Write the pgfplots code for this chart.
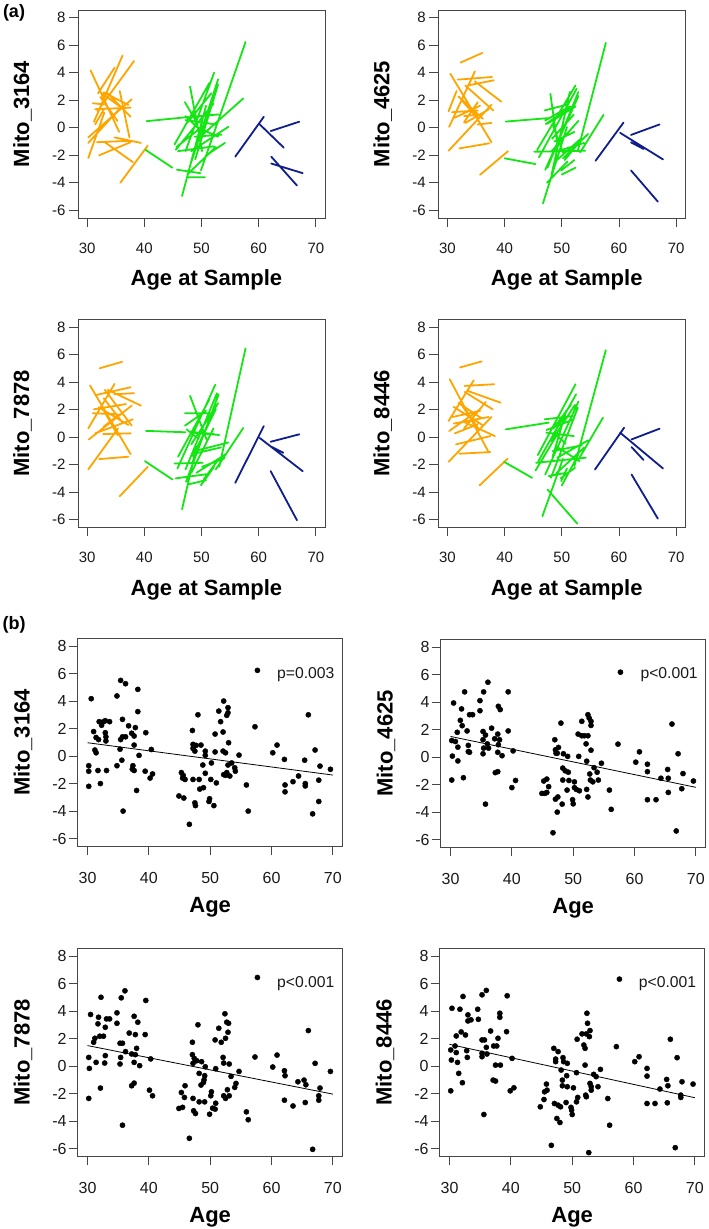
\documentclass[border=0pt]{standalone}
\usepackage{fontspec}
\setmainfont{Liberation Sans}
\usepackage{pgfplots}
\pgfplotsset{compat=1.18}

\definecolor{rorange}{RGB}{255,165,0}
\definecolor{rgreen}{RGB}{20,230,20}
\definecolor{rnavy}{RGB}{15,30,140}
\definecolor{frame}{RGB}{70,70,70}

\tikzset{ptext/.style={anchor=base west, font=\fontsize{15.7}{19}\selectfont, text=black!90}}

\pgfplotsset{
  rbase/.style={
    scale only axis, height=208pt,
    xmin=28.4, xmax=71.6, ymin=-6.56, ymax=8.56,
    xtick={30,40,50,60,70}, ytick={-6,-4,-2,0,2,4,6,8},
    xticklabels={30,40,50,60,70}, yticklabels={-6,-4,-2,0,2,4,6,8},
    tick align=outside, tick pos=left,
    major tick length=9pt,
    axis line style={frame, line width=0.9pt},
    tick style={frame, line width=0.9pt},
    unbounded coords=jump,
    every axis y label/.style={rotate=90, anchor=center, font=\fontsize{22}{26}\selectfont\bfseries},
    every axis x label/.style={anchor=base, font=\fontsize{22}{26}\selectfont\bfseries},
  },
  % panels (a): spaghetti plots
  pa/.style={rbase, width=247pt,
    tick label style={font=\fontsize{15}{18}\selectfont, inner sep=0pt, text=black!90},
    xticklabel style={anchor=north, yshift=-15.7pt},
    yticklabel style={anchor=east, xshift=-3.3pt},
    ylabel style={at={(axis description cs:-0.2247,0.5)}},
    xlabel style={at={(axis description cs:0.52,-0.3255)}},
    xlabel={Age at Sample},
  },
  % panels (b): scatter with fit
  pb/.style={rbase, width=265pt,
    tick label style={font=\fontsize{16}{19}\selectfont, inner sep=0pt, text=black!90},
    xticklabel style={anchor=north, yshift=-16.8pt},
    yticklabel style={anchor=east, xshift=-2pt},
    ylabel style={at={(axis description cs:-0.206,0.5)}},
    xlabel style={at={(axis description cs:0.5,-0.319)}},
    xlabel={Age},
  },
  seg/.style={line width=1.8pt, line cap=round},
  pts/.style={only marks, mark=*, mark size=2.6pt, black},
  fit/.style={black, line width=0.8pt},
}

\begin{document}
\begin{tikzpicture}
\useasboundingbox (0pt,0pt) rectangle (709pt,-1229pt);

\node[anchor=base, font=\fontsize{18}{21}\selectfont\bfseries] at (14pt,-17pt) {(a)};
\node[anchor=base, font=\fontsize{18}{21}\selectfont\bfseries] at (14pt,-629pt) {(b)};

% ---------------- (a) Mito_3164
\begin{axis}[pa, at={(78pt,-10pt)}, anchor=north west, ylabel={Mito\_3164}]
\addplot[seg, rorange] coordinates {
(30.6,4.17)(35.6,-0.3)(0,nan) (31.2,0.44)(36.2,5.26)(0,nan) (31.8,1.2)(38.2,4.85)(0,nan)
(30.2,-0.7)(37.8,2.07)(0,nan) (30.2,-2.2)(33.0,1.1)(0,nan) (30.2,-1.1)(35.7,1.4)(0,nan)
(31.0,1.78)(32.9,1.7)(0,nan) (32.1,-2.0)(37.6,-1.05)(0,nan) (31.7,-1.05)(37.3,-0.95)(0,nan)
(34.8,-0.7)(39.4,-1.1)(0,nan) (33.1,-1.05)(38.0,-2.5)(0,nan) (35.8,-4.0)(40.6,-1.3)(0,nan)
(35.7,2.67)(37.4,-0.7)(0,nan) (31.9,2.5)(34.8,4.37)(0,nan) (32.3,2.24)(35.3,0.5)(0,nan)
(32.6,2.5)(36.2,1.4)(0,nan) (32.9,2.57)(37.2,1.66)(0,nan) (33.6,2.5)(37.6,0.8)(0,nan)
(31.4,0.24)(33.0,1.4)(0,nan) (31.4,1.35)(37.6,1.46)};
\addplot[seg, rgreen] coordinates {
(40.4,0.48)(47.7,0.78)(0,nan) (40.2,-1.6)(44.9,-2.9)(0,nan) (46.6,-4.96)(50.8,1.6)(0,nan)
(49.9,-3.1)(57.7,6.23)(0,nan) (50.2,-0.5)(57.3,2.13)(0,nan) (45.7,-3.05)(49.8,-3.3)(0,nan)
(47.6,-3.6)(50.6,-3.6)(0,nan) (48.0,3.0)(50.1,-1.7)(0,nan) (47.2,-1.7)(52.2,4.0)(0,nan)
(48.3,-2.4)(52.9,3.52)(0,nan) (49.2,-1.25)(52.7,2.96)(0,nan) (48.9,-2.3)(52.9,3.15)(0,nan)
(45.3,-1.2)(51.4,3.27)(0,nan) (45.6,-1.4)(50.8,0.3)(0,nan) (45.5,-1.6)(52.1,1.75)(0,nan)
(45.9,-1.7)(52.2,-1.35)(0,nan) (51.0,-1.95)(54.1,-1.1)(0,nan) (47.2,0.56)(52.5,0.24)(0,nan)
(47.5,0.36)(51.7,2.5)(0,nan) (48.5,0.8)(53.0,0.97)(0,nan) (47.2,0.85)(49.2,0.05)(0,nan)
(47.1,1.86)(49.2,0.36)(0,nan) (48.2,-1.7)(54.7,0.07)(0,nan) (48.8,-0.65)(53.5,-0.5)(0,nan)
(49.2,0.05)(52.9,-0.65)(0,nan) (47.5,-3.4)(52.5,-1.4)};
\addplot[seg, rnavy] coordinates {
(55.9,-2.1)(60.9,0.8)(0,nan) (60.2,0.24)(64.4,-1.45)(0,nan) (62.1,-0.24)(67.1,0.44)(0,nan)
(62.2,-2.1)(66.7,-4.2)(0,nan) (62.2,-2.6)(67.7,-3.3)};
\end{axis}

% ---------------- (a) Mito_4625
\begin{axis}[pa, at={(438.3pt,-10pt)}, anchor=north west, ylabel={Mito\_4625}]
\addplot[seg, rorange] coordinates {
(32.3,4.74)(36.1,5.44)(0,nan) (30.5,3.93)(37.7,-1.06)(0,nan) (30.2,-1.67)(37.7,1.67)(0,nan)
(30.3,0.07)(34.8,4.1)(0,nan) (30.2,1.2)(31.6,2.67)(0,nan) (33.1,3.08)(38.0,1.26)(0,nan)
(33.6,3.08)(38.1,3.45)(0,nan) (34.8,3.37)(39.4,1.9)(0,nan) (32.1,-1.5)(37.3,-1.13)(0,nan)
(35.7,-3.42)(40.6,-1.7)(0,nan) (35.3,0.24)(37.7,0.35)(0,nan) (30.8,1.13)(35.3,1.26)(0,nan)
(31.2,0.72)(35.7,1.6)(0,nan) (32.9,0.85)(36.0,0.96)(0,nan) (32.9,0.4)(35.3,1.86)(0,nan)
(33.1,0.35)(37.2,1.33)(0,nan) (31.9,2.28)(36.2,0.65)(0,nan) (32.7,1.9)(35.4,0.65)(0,nan)
(31.8,3.5)(37.8,3.69)};
\addplot[seg, rgreen] coordinates {
(40.2,0.45)(47.6,0.7)(0,nan) (40.0,-2.22)(45.4,-2.64)(0,nan) (46.7,-5.5)(50.9,0.05)(0,nan)
(52.8,-1.67)(57.7,6.17)(0,nan) (53.2,-1.8)(57.3,0.94)(0,nan) (45.2,-1.74)(54.1,-1.67)(0,nan)
(45.7,-1.6)(52.4,3.08)(0,nan) (46.0,-2.15)(52.6,2.84)(0,nan) (47.5,-2.9)(52.9,2.6)(0,nan)
(47.1,-3.06)(52.9,2.3)(0,nan) (48.2,-3.42)(51.4,2.6)(0,nan) (47.4,-4.0)(51.0,-2.45)(0,nan)
(47.0,1.26)(50.8,1.67)(0,nan) (48.0,2.47)(49.2,-1.1)(0,nan) (47.1,0.53)(51.4,1.55)(0,nan)
(47.2,0.28)(51.8,1.55)(0,nan) (47.4,0.28)(52.4,1.55)(0,nan) (48.3,-0.8)(52.1,0.96)(0,nan)
(48.7,-1.0)(52.2,-0.3)(0,nan) (48.3,-1.67)(52.9,0.5)(0,nan) (48.4,0.24)(50.2,-1.8)(0,nan)
(49.0,-2.4)(53.4,-0.77)(0,nan) (49.3,-1.7)(53.9,-1.1)(0,nan) (49.9,-3.1)(52.2,-2.35)(0,nan)
(50.0,-3.4)(52.4,-2.9)(0,nan) (50.2,-2.22)(54.6,-0.45)(0,nan) (50.5,-2.35)(52.7,-1.23)};
\addplot[seg, rnavy] coordinates {
(55.9,-2.4)(60.8,0.38)(0,nan) (60.2,-0.37)(67.7,-2.3)(0,nan) (62.1,-0.52)(67.1,0.24)(0,nan)
(62.1,-1.06)(64.3,-1.54)(0,nan) (62.1,-3.1)(66.8,-5.37)};
\end{axis}

% ---------------- (a) Mito_7878
\begin{axis}[pa, at={(78pt,-319.3pt)}, anchor=north west, ylabel={Mito\_7878}]
\addplot[seg, rorange] coordinates {
(32.2,5.0)(36.1,5.47)(0,nan) (30.5,3.75)(37.6,-1.24)(0,nan) (30.2,0.63)(34.8,3.87)(0,nan)
(30.3,-0.17)(37.8,2.29)(0,nan) (30.2,-2.35)(35.4,0.63)(0,nan) (32.1,-1.6)(37.2,-1.43)(0,nan)
(32.8,0.22)(37.6,0.27)(0,nan) (31.7,3.07)(37.6,3.62)(0,nan) (33.6,3.43)(39.4,2.29)(0,nan)
(34.8,3.11)(38.2,3.19)(0,nan) (35.7,-4.3)(40.6,-2.16)(0,nan) (31.0,1.73)(35.3,1.66)(0,nan)
(31.2,2.02)(36.8,2.4)(0,nan) (32.0,2.17)(37.2,0.88)(0,nan) (32.6,2.17)(35.3,0.15)(0,nan)
(32.9,2.82)(36.2,1.05)(0,nan) (32.9,0.76)(35.7,1.66)(0,nan) (31.4,0.27)(38.0,1.29)(0,nan)
(33.1,3.43)(37.8,0.83)};
\addplot[seg, rgreen] coordinates {
(40.3,0.45)(47.2,0.35)(0,nan) (40.1,-1.75)(44.9,-3.08)(0,nan) (46.6,-5.25)(49.1,-0.7)(0,nan)
(53.1,-2.16)(57.7,6.44)(0,nan) (52.5,-2.35)(57.3,0.66)(0,nan) (47.1,1.73)(51.8,1.73)(0,nan)
(47.8,0.39)(52.2,0.22)(0,nan) (45.3,-1.92)(50.2,-1.87)(0,nan) (45.5,-3.0)(50.9,-2.7)(0,nan)
(45.8,-2.28)(52.4,3.8)(0,nan) (45.9,-1.43)(51.4,2.75)(0,nan) (47.2,-2.35)(52.7,3.19)(0,nan)
(47.3,-3.25)(53.0,3.11)(0,nan) (47.6,-3.45)(50.8,-3.13)(0,nan) (48.0,3.0)(50.9,-0.19)(0,nan)
(48.2,-0.53)(52.9,2.46)(0,nan) (48.5,-1.38)(52.5,2.02)(0,nan) (48.2,-2.6)(52.1,0.63)(0,nan)
(48.6,0.32)(53.1,0.15)(0,nan) (49.1,-2.6)(54.2,-1.26)(0,nan) (49.0,-1.0)(54.7,-0.39)(0,nan)
(49.9,-3.5)(52.2,-2.16)(0,nan) (50.4,-3.06)(52.8,-1.72)(0,nan) (47.1,0.83)(50.8,1.9)(0,nan)
(47.4,0.56)(49.2,-0.05)(0,nan) (48.9,-1.19)(53.4,-0.75)(0,nan) (50.1,-2.16)(54.0,-1.55)};
\addplot[seg, rnavy] coordinates {
(55.9,-3.33)(60.9,0.8)(0,nan) (60.2,-0.07)(67.7,-2.48)(0,nan) (62.1,-0.34)(67.1,0.2)(0,nan)
(62.2,-0.7)(64.3,-1.14)(0,nan) (62.1,-2.48)(66.7,-6.05)};
\end{axis}

% ---------------- (a) Mito_8446
\begin{axis}[pa, at={(438.3pt,-319.3pt)}, anchor=north west, ylabel={Mito\_8446}]
\addplot[seg, rorange] coordinates {
(32.2,5.06)(36.0,5.5)(0,nan) (30.4,4.2)(37.1,-1.02)(0,nan) (32.1,-1.21)(37.5,-1.09)(0,nan)
(30.2,-1.8)(37.7,1.46)(0,nan) (30.2,1.17)(34.6,4.13)(0,nan) (33.0,3.72)(38.2,3.84)(0,nan)
(33.0,3.28)(37.9,2.02)(0,nan) (33.5,3.36)(39.3,2.5)(0,nan) (31.5,-0.53)(37.5,0.07)(0,nan)
(35.6,-3.52)(40.5,-1.58)(0,nan) (30.3,0.44)(35.3,1.9)(0,nan) (30.9,1.46)(35.7,1.9)(0,nan)
(31.1,2.19)(36.1,0.88)(0,nan) (31.1,0.98)(37.2,1.46)(0,nan) (31.3,0.27)(35.3,0.93)(0,nan)
(31.9,2.48)(36.0,1.36)(0,nan) (32.6,2.26)(35.3,0.68)(0,nan) (32.8,1.12)(38.3,0.07)(0,nan)
(32.9,0.63)(36.7,2.55)};
\addplot[seg, rgreen] coordinates {
(40.2,0.56)(47.7,1.05)(0,nan) (39.9,-1.8)(44.8,-2.96)(0,nan) (46.6,-5.76)(50.2,-1.58)(0,nan)
(47.5,-3.81)(52.7,-6.29)(0,nan) (52.2,-2.11)(57.7,6.32)(0,nan) (53.1,-1.5)(57.2,1.41)(0,nan)
(45.5,-1.87)(54.2,-1.5)(0,nan) (45.8,-1.31)(52.4,3.84)(0,nan) (45.9,-1.75)(52.5,3.11)(0,nan)
(47.1,-2.72)(52.9,2.58)(0,nan) (48.1,-2.96)(52.8,2.14)(0,nan) (47.0,1.29)(51.9,1.53)(0,nan)
(48.5,0.61)(51.6,2.34)(0,nan) (47.3,0.51)(52.1,1.29)(0,nan) (47.3,0.32)(52.1,0.07)(0,nan)
(48.2,-0.29)(52.3,2.34)(0,nan) (48.4,-1.43)(50.8,1.95)(0,nan) (48.4,-1.02)(53.5,-0.6)(0,nan)
(48.6,0.32)(50.7,-0.48)(0,nan) (49.0,-2.65)(53.9,-0.77)(0,nan) (49.1,-0.7)(53.1,-1.75)(0,nan)
(49.2,-1.5)(54.6,-0.24)(0,nan) (49.8,-3.0)(52.3,-2.23)(0,nan) (49.9,-3.2)(50.9,-2.28)(0,nan)
(50.0,-3.52)(52.9,-1.26)(0,nan) (47.7,-2.84)(50.7,-2.6)(0,nan) (45.4,-2.43)(49.2,0.2)};
\addplot[seg, rnavy] coordinates {
(55.8,-2.36)(60.9,0.68)(0,nan) (60.2,0.32)(67.7,-2.28)(0,nan) (62.2,-0.17)(67.1,0.61)(0,nan)
(62.2,-0.73)(64.3,-1.67)(0,nan) (62.2,-2.72)(66.8,-5.93)};
\end{axis}

% ---------------- (b) Mito_3164
\begin{axis}[pb, at={(77.7pt,-638.3pt)}, anchor=north west, ylabel={Mito\_3164}]
\addplot[pts] coordinates {
(30.6,4.17)(30.2,-0.7)(30.2,-1.1)(30.2,-2.2)(31.0,1.78)(31.2,0.44)(31.4,0.24)(31.4,1.35)
(31.8,1.2)(31.7,-1.05)(32.1,-2.0)(31.9,2.5)(32.3,2.24)(32.6,2.5)(32.9,2.57)(33.6,2.5)
(32.9,1.7)(33.0,1.4)(33.0,1.1)(33.1,-1.05)(34.8,4.37)(34.8,-0.7)(35.4,5.5)(36.2,5.26)
(35.7,2.67)(35.7,1.4)(35.4,1.2)(35.3,0.5)(35.8,-4.0)(35.6,-0.3)(36.2,1.4)(36.7,2.2)
(37.2,1.66)(37.6,1.46)(37.4,-0.7)(37.3,-0.95)(37.6,-1.05)(37.8,2.07)(37.6,0.8)(38.2,4.85)
(38.2,3.23)(38.0,-2.5)(38.4,0.05)(39.5,1.7)(39.4,-1.1)(40.2,-1.6)(40.6,-1.3)(40.4,0.48)
(44.9,-2.9)(45.7,-3.05)(45.3,-1.2)(45.6,-1.4)(45.5,-1.6)(45.9,-1.7)(46.6,-4.96)(47.1,1.86)
(47.2,0.85)(47.2,0.56)(47.7,0.78)(47.5,0.36)(47.2,-1.7)(47.5,-3.4)(47.6,-3.6)(48.0,3.0)
(48.5,0.8)(48.2,-1.7)(48.3,-2.4)(48.8,-0.65)(48.9,-2.3)(49.2,0.36)(49.2,0.05)(49.2,-1.25)
(49.8,-3.3)(49.9,-3.1)(50.2,-0.5)(50.1,-1.7)(50.6,-3.6)(50.8,1.6)(50.8,0.3)(51.0,-1.95)
(51.4,3.27)(51.7,2.5)(52.1,1.75)(52.1,0.36)(52.5,0.24)(52.2,4.0)(52.2,-1.35)(52.7,-1.2)
(52.5,-1.4)(52.7,2.96)(52.9,3.15)(52.9,3.52)(53.0,0.97)(52.9,-0.65)(53.2,-1.45)(53.5,-0.5)
(54.0,-0.85)(54.1,-1.1)(54.7,0.07)(55.9,-2.1)(56.2,-4.0)(57.3,2.13)(57.7,6.23)
(60.2,0.24)(60.9,0.8)(62.1,-0.24)(62.2,-2.1)(62.2,-2.6)(63.5,-1.86)(64.4,-1.45)(65.4,-0.3)
(65.5,-2.0)(65.5,-2.17)(66.0,3.0)(66.7,-4.2)(67.1,0.44)(67.7,-1.75)(67.7,-3.3)(67.9,-0.73)
(69.6,-0.96)};
\addplot[fit] coordinates {(30,0.97)(70,-1.38)};
\node[ptext] at (axis cs:60.35,5.65) {p=0.003};
\end{axis}

% ---------------- (b) Mito_4625
\begin{axis}[pb, at={(440.7pt,-639.3pt)}, anchor=north west, ylabel={Mito\_4625}]
\addplot[pts] coordinates {
(30.5,3.93)(30.2,1.2)(30.8,1.13)(30.3,0.07)(30.2,-1.67)(31.1,1.8)(31.2,0.72)(31.2,-0.28)
(31.6,2.67)(31.8,3.5)(31.9,2.28)(32.1,-1.5)(32.3,4.74)(32.7,1.9)(32.9,0.85)(32.9,0.4)
(33.1,0.35)(33.1,3.08)(33.6,3.08)(34.8,4.1)(34.8,3.37)(35.4,4.74)(35.3,1.86)(35.7,1.6)
(35.3,1.26)(35.3,0.24)(35.4,0.65)(35.7,-3.42)(36.1,5.44)(36.0,0.96)(36.2,0.65)(36.7,2.1)
(37.2,1.33)(37.8,3.69)(38.1,3.45)(37.3,-1.13)(37.7,-1.06)(37.7,1.67)(38.0,1.26)(37.8,0.9)
(37.7,0.35)(38.4,0.1)(39.4,1.9)(39.4,4.74)(40.2,0.45)(40.0,-2.22)(40.6,-1.7)
(44.9,-2.64)(45.4,-2.64)(45.2,-1.74)(45.7,-1.6)(46.0,-2.15)(45.7,-2.57)(46.7,-5.5)(47.0,1.26)
(47.1,0.53)(47.2,0.28)(47.6,0.7)(47.4,0.28)(47.1,-3.06)(47.5,-2.9)(47.4,-4.0)(48.0,2.47)
(48.2,-3.42)(48.3,-0.8)(48.7,-1.0)(49.2,-1.1)(48.3,-1.67)(48.4,0.24)(49.1,0.05)(49.0,-2.4)
(49.3,-1.7)(49.9,-3.1)(50.0,-3.4)(50.2,-1.8)(50.2,-2.22)(50.5,-2.35)(51.0,-2.45)(50.8,1.67)
(51.4,1.55)(51.8,1.55)(52.4,1.55)(50.9,0.05)(51.4,2.6)(52.1,0.96)(52.2,-0.3)(52.2,-2.35)
(52.4,3.08)(52.6,2.84)(52.9,2.6)(52.9,2.3)(52.4,-2.9)(52.7,-1.23)(52.9,0.5)(52.8,-1.67)
(53.2,-1.8)(53.4,-0.77)(53.9,-1.1)(54.1,-1.67)(54.6,-0.45)(55.9,-2.4)(56.2,-3.8)(57.3,0.94)
(57.7,6.17)
(60.2,-0.37)(60.8,0.38)(62.1,-0.52)(62.1,-1.06)(62.1,-3.1)(63.5,-3.1)(64.3,-1.54)(65.4,-0.9)
(65.5,-1.54)(65.5,-2.57)(66.1,2.4)(66.8,-5.37)(67.1,0.24)(67.7,-2.3)(67.9,-1.2)(69.6,-1.74)};
\addplot[fit] coordinates {(30,1.5)(70,-2.2)};
\node[ptext] at (axis cs:60.4,5.69) {p<0.001};
\end{axis}

% ---------------- (b) Mito_7878
\begin{axis}[pb, at={(77.7pt,-948.3pt)}, anchor=north west, ylabel={Mito\_7878}]
\addplot[pts] coordinates {
(30.5,3.75)(30.2,0.63)(30.3,-0.17)(30.2,-2.35)(31.0,1.73)(31.2,2.02)(31.4,0.27)(31.7,3.07)
(31.8,3.55)(32.0,2.17)(32.1,-1.6)(32.2,5.0)(32.6,2.17)(32.9,2.82)(32.9,0.76)(32.8,0.22)
(33.1,3.43)(33.6,3.43)(34.8,3.87)(34.8,3.11)(35.5,4.96)(35.3,1.66)(35.7,1.66)(35.4,0.63)
(35.3,0.15)(35.7,-4.3)(36.1,5.47)(36.2,1.05)(36.8,2.4)(37.2,0.88)(37.2,-1.43)(37.6,-1.24)
(37.6,3.62)(38.2,3.19)(37.8,2.29)(37.6,0.27)(37.8,0.83)(38.0,1.29)(38.5,0.03)(39.5,4.77)
(39.4,2.29)(40.1,-1.75)(40.6,-2.16)(40.3,0.52)
(44.9,-3.08)(45.5,-3.0)(45.3,-1.92)(45.9,-1.43)(45.8,-2.28)(46.6,-5.25)(47.1,1.73)(47.1,0.83)
(47.2,0.2)(47.4,0.56)(47.8,0.39)(47.2,-2.35)(47.3,-3.25)(47.6,-3.45)(48.0,3.0)(48.2,-0.53)
(48.5,-1.38)(48.2,-2.6)(48.6,0.32)(48.9,-1.19)(49.1,-0.7)(49.2,-0.05)(49.1,-2.6)(49.0,-1.0)
(49.9,-3.5)(50.1,-2.16)(50.2,-1.87)(50.4,-3.06)(50.8,-3.13)(50.8,1.9)(50.9,-0.19)(50.9,-2.7)
(51.4,2.75)(51.8,1.73)(52.1,0.63)(52.2,0.22)(52.2,-2.16)(52.5,-2.35)(52.4,3.8)(52.5,2.02)
(52.7,3.19)(53.0,3.11)(52.9,2.46)(52.8,-1.72)(53.1,-2.16)(53.1,0.15)(53.4,-0.75)(54.0,-1.55)
(54.2,-1.26)(54.7,-0.39)(55.9,-3.33)(56.2,-3.9)(57.3,0.66)(57.7,6.44)
(60.2,-0.07)(60.9,0.8)(62.1,-0.34)(62.2,-0.7)(62.1,-2.48)(63.5,-2.9)(64.3,-1.14)(65.3,-1.02)
(65.6,-1.36)(65.5,-2.65)(66.0,2.58)(66.7,-6.05)(67.1,0.2)(67.7,-2.16)(67.7,-2.48)(67.9,-1.6)
(69.6,-0.39)};
\addplot[fit] coordinates {(30,1.49)(70,-2.04)};
\node[ptext] at (axis cs:60.35,5.72) {p<0.001};
\end{axis}

% ---------------- (b) Mito_8446
\begin{axis}[pb, at={(439.7pt,-948.3pt)}, anchor=north west, ylabel={Mito\_8446}]
\addplot[pts] coordinates {
(30.2,1.17)(30.3,0.44)(30.2,-1.8)(30.4,4.2)(30.9,1.46)(31.1,2.19)(31.1,0.98)(31.3,0.27)
(31.5,-0.53)(31.7,4.13)(31.9,2.48)(32.1,-1.21)(32.2,5.06)(32.6,2.26)(32.8,1.12)(32.9,0.63)
(33.0,3.72)(33.0,3.28)(33.5,3.36)(34.6,4.13)(34.7,3.4)(35.3,5.18)(35.3,1.9)(35.7,1.9)
(35.3,0.93)(35.3,0.68)(35.6,-3.52)(36.0,5.5)(36.0,1.36)(36.1,0.88)(36.7,2.55)(37.1,-1.02)
(37.5,-1.09)(37.2,1.46)(37.7,1.46)(37.9,2.02)(37.5,0.07)(38.3,0.07)(38.2,3.84)(38.2,3.55)
(39.4,5.11)(39.3,2.5)(39.9,-1.8)(40.5,-1.58)(40.2,0.56)
(44.8,-2.96)(45.4,-2.43)(45.5,-1.87)(45.8,-1.31)(45.9,-1.75)(46.6,-5.76)(47.0,1.29)(47.3,0.51)
(47.3,0.32)(47.7,1.05)(47.1,-2.72)(47.5,-3.81)(48.0,-4.1)(47.7,-2.84)(48.1,-2.96)(48.2,-0.29)
(48.4,-1.43)(48.4,-1.02)(48.5,0.61)(48.6,0.32)(49.0,-2.65)(49.2,0.2)(49.1,-0.7)(49.2,-1.5)
(49.8,-3.0)(49.9,-3.2)(50.0,-3.52)(50.2,-1.58)(50.7,-2.6)(50.7,-0.48)(50.8,1.95)(50.9,-2.28)
(51.6,2.34)(51.9,1.53)(52.1,1.29)(52.1,0.07)(52.2,-2.11)(52.3,-2.23)(52.4,3.84)(52.5,3.11)
(52.3,2.34)(52.8,2.14)(52.9,2.58)(52.9,-1.26)(53.1,-1.5)(53.1,-1.75)(53.5,-0.6)(53.9,-0.77)
(54.2,-1.5)(54.6,-0.24)(55.8,-2.36)(56.1,-4.3)(57.2,1.41)(57.7,6.32)(52.7,-6.29)
(60.2,0.32)(60.9,0.68)(62.2,-0.17)(62.2,-0.73)(62.2,-2.72)(63.5,-2.72)(64.3,-1.67)(65.4,-0.97)
(65.6,-1.43)(65.5,-2.67)(66.0,1.95)(66.8,-5.93)(67.1,0.61)(67.7,-2.11)(67.7,-2.28)(67.9,-1.14)
(69.7,-1.31)};
\addplot[fit] coordinates {(30,1.58)(70,-2.3)};
\node[ptext] at (axis cs:60.3,5.69) {p<0.001};
\end{axis}
\end{tikzpicture}
\end{document}
